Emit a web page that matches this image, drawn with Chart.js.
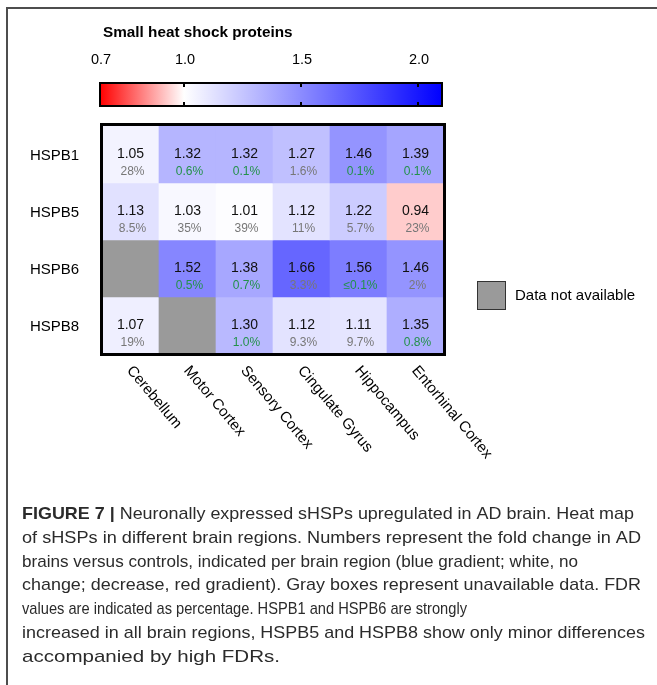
<!DOCTYPE html>
<html>
<head>
<meta charset="utf-8">
<script src="https://cdn.jsdelivr.net/npm/chart.js@4.4.1/dist/chart.umd.min.js"></script>
<style>
  html, body { margin: 0; padding: 0; background: #fff; }
  canvas { display: block; }
</style>
</head>
<body>
<canvas id="heat" width="657" height="685"></canvas>
<script>
// Brain regions (columns) and small heat shock proteins (rows)
const regions = ['Cerebellum', 'Motor Cortex', 'Sensory Cortex', 'Cingulate Gyrus', 'Hippocampus', 'Entorhinal Cortex'];
const proteins = ['HSPB1', 'HSPB5', 'HSPB6', 'HSPB8'];

// Fold change AD vs control (null = no data)
const foldHSPB1 = [1.05, 1.32, 1.32, 1.27, 1.46, 1.39];
const foldHSPB5 = [1.13, 1.03, 1.01, 1.12, 1.22, 0.94];
const foldHSPB6 = [null, 1.52, 1.38, 1.66, 1.56, 1.46];
const foldHSPB8 = [1.07, null, 1.30, 1.12, 1.11, 1.35];

// FDR per cell
const fdrHSPB1 = ['28%', '0.6%', '0.1%', '1.6%', '0.1%', '0.1%'];
const fdrHSPB5 = ['8.5%', '35%', '39%', '11%', '5.7%', '23%'];
const fdrHSPB6 = [null, '0.5%', '0.7%', '3.3%', '≤0.1%', '2%'];
const fdrHSPB8 = ['19%', null, '1.0%', '9.3%', '9.7%', '0.8%'];

// Colour scale: low (red) / neutral (white) / high (blue)
const colorbarRange = [0.7, 1.0, 2.1];
const colorbarTicks = [0.7, 1.0, 1.5, 2.0];
const colorbarTitle = 'Small heat shock proteins';
const missingLabel = 'Data not available';

const captionLead = 'FIGURE 7 |';
const captionLines = [
  ' Neuronally expressed sHSPs upregulated in AD brain. Heat map',
  'of sHSPs in different brain regions. Numbers represent the fold change in AD',
  'brains versus controls, indicated per brain region (blue gradient; white, no',
  'change; decrease, red gradient). Gray boxes represent unavailable data. FDR',
  'values are indicated as percentage. HSPB1 and HSPB6 are strongly',
  'increased in all brain regions, HSPB5 and HSPB8 show only minor differences',
  'accompanied by high FDRs.'
];
const captionLineEnds = [634, 641, 578, 641, 467, 645, 280];

const foldRows = [foldHSPB1, foldHSPB5, foldHSPB6, foldHSPB8];
const fdrRows = [fdrHSPB1, fdrHSPB5, fdrHSPB6, fdrHSPB8];
const MISSING = '#9a9a9a';
const FONT = '"Liberation Sans", Arial, Helvetica, sans-serif';

function foldColor(v) {
  if (v == null) return MISSING;
  const [lo, mid, hi] = colorbarRange;
  if (v < mid) {
    const t = Math.min(1, (mid - v) / (mid - lo));
    const g = Math.round(255 * (1 - t));
    return `rgb(255,${g},${g})`;
  }
  const t = Math.min(1, (v - mid) / (hi - mid));
  const g = Math.round(255 * (1 - t));
  return `rgb(${g},${g},255)`;
}

function isSignificant(s) {
  return parseFloat(s.replace('≤', '')) <= 1;
}

// Piecewise colour-bar position: red half and blue half have their own spans
const cbBox = { left: 100, right: 442, top: 83, bottom: 106, neutralX: 184, unitPx: 234 };
function cbX(v) {
  const [lo, mid] = colorbarRange;
  if (v <= mid) return cbBox.left + (v - lo) / (mid - lo) * (cbBox.neutralX - cbBox.left);
  return cbBox.neutralX + (v - mid) * cbBox.unitPx;
}

const decorations = {
  id: 'decorations',
  afterDatasetsDraw(chart) {
    const { ctx, chartArea: a } = chart;
    const xs = chart.scales.x, ys = chart.scales.y;
    ctx.save();

    // heat-map frame
    ctx.strokeStyle = '#000';
    ctx.lineWidth = 3;
    ctx.strokeRect(a.left - 0.5, a.top - 1.5, a.right - a.left + 1, a.bottom - a.top + 2);

    // cell annotations
    ctx.textAlign = 'center';
    ctx.textBaseline = 'middle';
    foldRows.forEach((row, r) => {
      const cy = ys.getPixelForValue(r + 0.5);
      row.forEach((v, c) => {
        if (v == null) return;
        const cx = xs.getPixelForValue(c);
        ctx.fillStyle = '#111';
        ctx.font = `14px ${FONT}`;
        ctx.fillText(v.toFixed(2), cx, cy);
        const f = fdrRows[r][c];
        if (f) {
          ctx.font = `12px ${FONT}`;
          ctx.fillStyle = isSignificant(f) ? '#23914a' : '#777';
          ctx.fillText(f, cx + 2, cy + 17);
        }
      });
    });

    // row labels
    ctx.textAlign = 'left';
    ctx.fillStyle = '#000';
    ctx.font = `15px ${FONT}`;
    proteins.forEach((p, r) => {
      ctx.fillText(p, 30, ys.getPixelForValue(r + 0.5) + 1);
    });

    // slanted column labels
    regions.forEach((name, c) => {
      const cx = xs.getPixelForValue(c);
      ctx.save();
      ctx.translate(cx - 1, a.bottom + 14);
      ctx.rotate(50 * Math.PI / 180);
      ctx.textAlign = 'left';
      ctx.textBaseline = 'middle';
      ctx.fillText(name, 0, 0);
      ctx.restore();
    });

    // colour bar
    const grad = ctx.createLinearGradient(cbBox.left, 0, cbBox.right, 0);
    grad.addColorStop(0, 'rgb(255,0,0)');
    grad.addColorStop((cbBox.neutralX - cbBox.left) / (cbBox.right - cbBox.left), '#fff');
    grad.addColorStop(1, 'rgb(0,0,255)');
    ctx.fillStyle = grad;
    ctx.fillRect(cbBox.left, cbBox.top, cbBox.right - cbBox.left, cbBox.bottom - cbBox.top);
    ctx.strokeStyle = '#000';
    ctx.lineWidth = 2;
    ctx.strokeRect(cbBox.left, cbBox.top, cbBox.right - cbBox.left, cbBox.bottom - cbBox.top);
    ctx.fillStyle = '#000';
    colorbarTicks.forEach(t => {
      const x = cbX(t);
      if (t > colorbarRange[0]) {
        ctx.fillRect(x - 1, cbBox.top, 2, 4);
        ctx.fillRect(x - 1, cbBox.bottom - 4, 2, 4);
      }
    });
    ctx.font = `14.5px ${FONT}`;
    ctx.textAlign = 'center';
    ctx.textBaseline = 'middle';
    colorbarTicks.forEach(t => ctx.fillText(t.toFixed(1), cbX(t) + 1, 60));
    ctx.font = `bold 15.3px ${FONT}`;
    ctx.textAlign = 'left';
    ctx.fillText(colorbarTitle, 103, 33);

    // missing-data key
    ctx.fillStyle = MISSING;
    ctx.fillRect(477, 281, 29, 29);
    ctx.strokeStyle = '#333';
    ctx.lineWidth = 1;
    ctx.strokeRect(477.5, 281.5, 28, 28);
    ctx.fillStyle = '#000';
    ctx.font = `15px ${FONT}`;
    ctx.fillText(missingLabel, 515, 296);

    // figure frame
    ctx.fillStyle = '#4d4d4d';
    ctx.fillRect(6, 7, 651, 2);
    ctx.fillRect(6, 7, 2, 678);

    // caption, each line set to its own measure
    ctx.textBaseline = 'alphabetic';
    ctx.fillStyle = '#2b2b2b';
    const x0 = 22;
    captionLines.forEach((line, i) => {
      const y = 519 + i * 23.8;
      let leadW = 0;
      if (i === 0) {
        ctx.font = `bold 17px ${FONT}`;
        leadW = ctx.measureText(captionLead).width;
      }
      ctx.font = `17px ${FONT}`;
      const s = (captionLineEnds[i] - x0) / (leadW + ctx.measureText(line).width);
      ctx.save();
      ctx.translate(x0, y);
      ctx.scale(s, 1);
      if (i === 0) {
        ctx.font = `bold 17px ${FONT}`;
        ctx.fillText(captionLead, 0, 0);
      }
      ctx.font = `17px ${FONT}`;
      ctx.fillText(line, leadW, 0);
      ctx.restore();
    });

    ctx.restore();
  }
};

new Chart(document.getElementById('heat'), {
  type: 'bar',
  data: {
    labels: regions,
    datasets: proteins.map((p, r) => ({
      label: p,
      data: regions.map(() => [r, r + 1]),
      backgroundColor: foldRows[r].map(foldColor),
      borderWidth: 0,
      grouped: false,
      barPercentage: 1,
      categoryPercentage: 1
    }))
  },
  options: {
    responsive: false,
    animation: false,
    events: [],
    layout: { padding: { left: 102, top: 126, right: 213, bottom: 331 } },
    plugins: { legend: { display: false }, tooltip: { enabled: false } },
    scales: {
      x: { type: 'category', display: false, offset: true },
      y: { type: 'linear', min: 0, max: 4, reverse: true, display: false }
    }
  },
  plugins: [decorations]
});
</script>
</body>
</html>
